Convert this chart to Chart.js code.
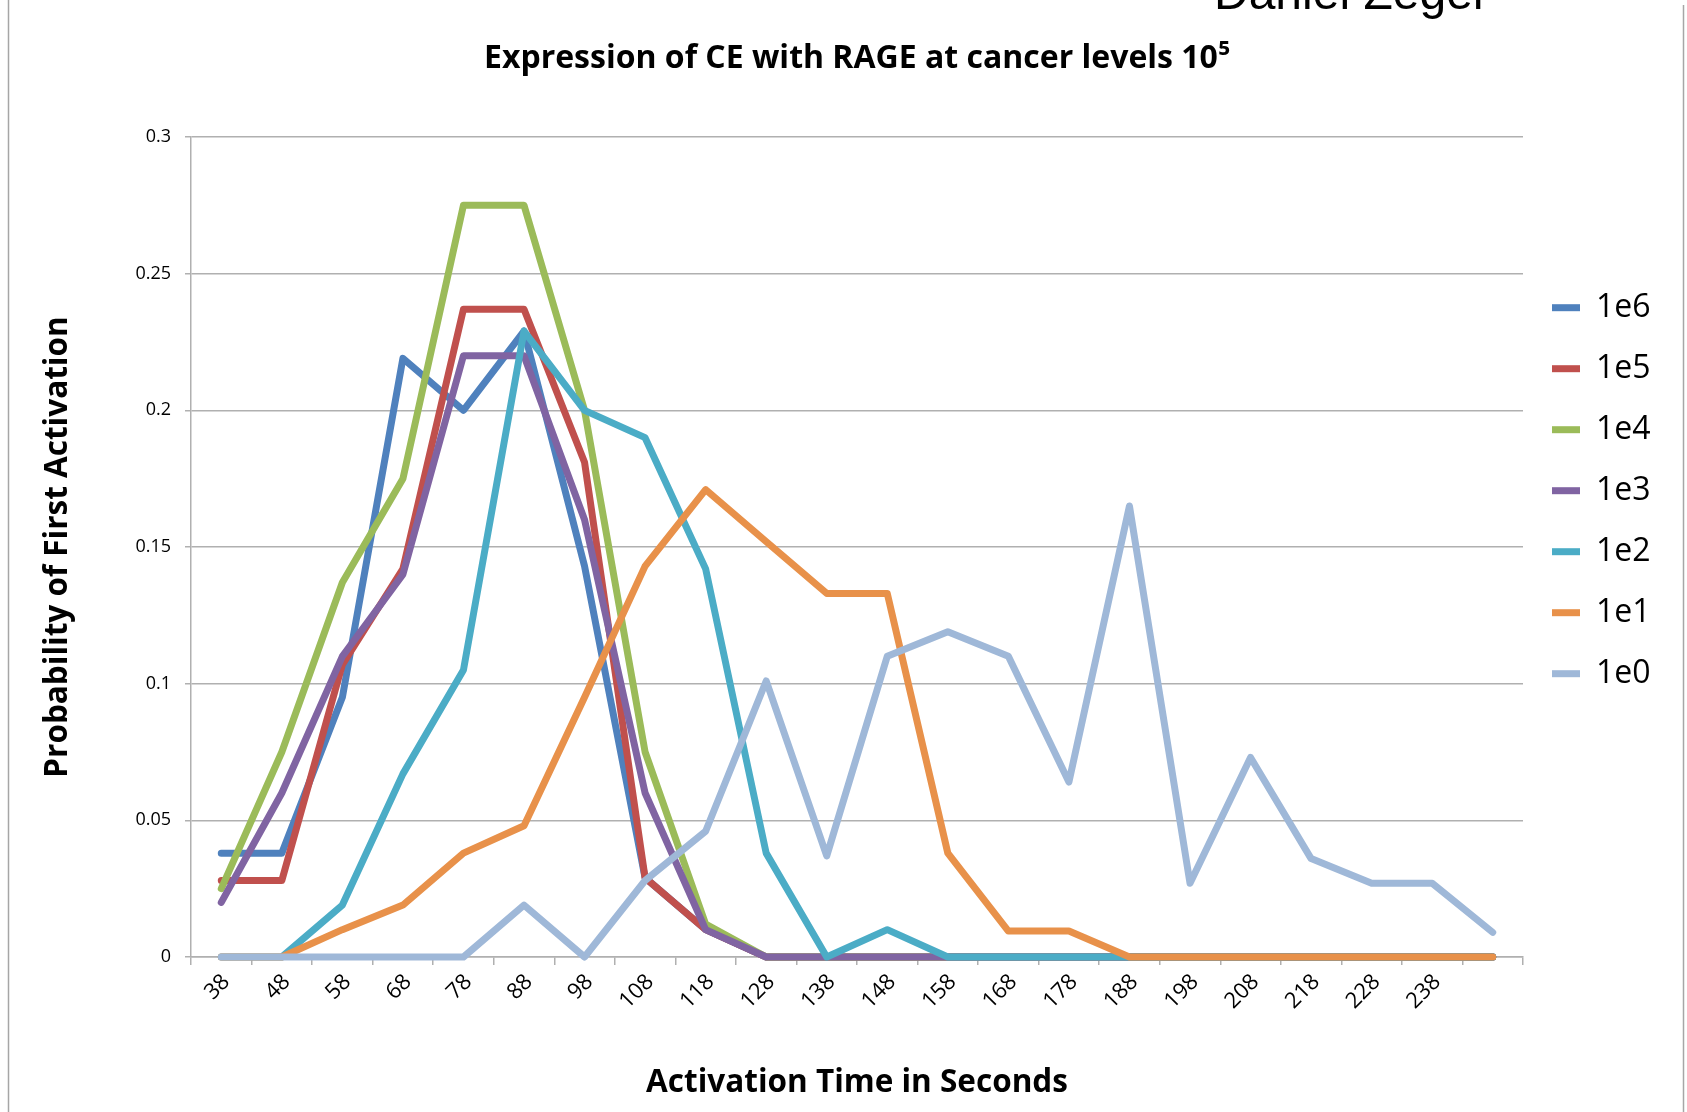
<!DOCTYPE html>
<html>
<head>
<meta charset="utf-8">
<title>Expression of CE with RAGE</title>
<script src="https://cdn.jsdelivr.net/npm/chart.js@4.4.1/dist/chart.umd.min.js"></script>
<style>
  html, body { margin: 0; padding: 0; background: #fff; }
  canvas { display: block; }
</style>
</head>
<body>
<canvas id="activation" width="1687" height="1112"></canvas>
<script>
// activation time categories (last one has no label in the original)
const activationTimes = ['38', '48', '58', '68', '78', '88', '98', '108', '118', '128', '138',
  '148', '158', '168', '178', '188', '198', '208', '218', '228', '238', '']

const seriesNames = ['1e6', '1e5', '1e4', '1e3', '1e2', '1e1', '1e0']

const series1e6 = [0.038, 0.038, 0.095, 0.219, 0.200, 0.229, 0.143, 0.029, 0.010, 0, 0, 0, 0, 0, 0, 0, 0, 0, 0, 0, 0, 0]
const series1e5 = [0.028, 0.028, 0.107, 0.142, 0.237, 0.237, 0.181, 0.029, 0.010, 0, 0, 0, 0, 0, 0, 0, 0, 0, 0, 0, 0, 0]
const series1e4 = [0.025, 0.075, 0.137, 0.175, 0.275, 0.275, 0.200, 0.075, 0.012, 0, 0, 0, 0, 0, 0, 0, 0, 0, 0, 0, 0, 0]
const series1e3 = [0.020, 0.060, 0.110, 0.140, 0.220, 0.220, 0.160, 0.060, 0.010, 0, 0, 0, 0, 0, 0, 0, 0, 0, 0, 0, 0, 0]
const series1e2 = [0, 0, 0.019, 0.067, 0.105, 0.229, 0.200, 0.190, 0.142, 0.038, 0, 0.010, 0, 0, 0, 0, 0, 0, 0, 0, 0, 0]
const series1e1 = [0, 0, 0.010, 0.019, 0.038, 0.048, 0.095, 0.143, 0.171, 0.152, 0.133, 0.133, 0.038, 0.0095, 0.0095, 0, 0, 0, 0, 0, 0, 0]
const series1e0 = [0, 0, 0, 0, 0, 0.019, 0, 0.028, 0.046, 0.101, 0.037, 0.110, 0.119, 0.110, 0.064, 0.165, 0.027, 0.073, 0.036, 0.027, 0.027, 0.009]

const seriesValues = [series1e6, series1e5, series1e4, series1e3, series1e2, series1e1, series1e0]
const seriesColors = ['#4f81bd', '#c0504d', '#9bbb59', '#8064a2', '#4bacc6', '#e8914a', '#9fb8d8']

const gridGrey = '#b0b0b0'
const textFont = '"Open Sans", "DejaVu Sans", sans-serif'
const legendWidth = 164

// thin page frame + the cut-off name at the top edge
const pageFrame = {
  id: 'pageFrame',
  beforeLayout(chart) {
    // keep the legend column a fixed width so the plot ends where Excel's does
    const legend = chart.legend
    if (legend && !legend._fixedWidth) {
      const fit = legend.fit
      legend.fit = function () {
        fit.call(this)
        this.width = legendWidth
      }
      legend._fixedWidth = true
    }
  },
  afterDraw(chart) {
    const ctx = chart.ctx
    ctx.save()
    ctx.strokeStyle = '#a6a6a6'
    ctx.lineWidth = 1.5
    ctx.beginPath()
    ctx.moveTo(8.5, 0)
    ctx.lineTo(8.5, chart.height)
    ctx.moveTo(1683.5, 5)
    ctx.lineTo(1683.5, chart.height)
    ctx.stroke()
    ctx.fillStyle = '#000'
    ctx.font = '48px "Liberation Sans", sans-serif'
    ctx.textBaseline = 'alphabetic'
    ctx.fillText('Daniel Zeger', 1214, 9)
    ctx.restore()
  }
}

const datasets = seriesNames.map((name, i) => ({
  label: name,
  data: seriesValues[i],
  borderColor: seriesColors[i],
  backgroundColor: seriesColors[i],
  borderWidth: 7,
  borderCapStyle: 'round',
  borderJoinStyle: 'round',
  pointRadius: 0,
  tension: 0,
  fill: false,
  clip: false,
  order: seriesNames.length - 1 - i   // later series painted on top, as in Excel
}))

Chart.defaults.font.family = textFont
Chart.defaults.color = '#000'

new Chart(document.querySelector('#activation'), {
  type: 'line',
  data: { labels: activationTimes, datasets: datasets },
  plugins: [pageFrame],
  options: {
    responsive: false,
    animation: false,
    events: [],
    layout: { padding: { left: 0, right: 0, top: 0, bottom: 0 } },
    plugins: {
      title: {
        display: true,
        fullSize: false,
        text: 'Expression of CE with RAGE at cancer levels 10\u2075',
        color: '#000',
        font: { size: 32, weight: 'bold' },
        padding: { top: 39.3, bottom: 59.3 }
      },
      legend: {
        position: 'right',
        align: 'start',
        title: { display: true, text: ' ', font: { size: 12 }, padding: { top: 248.3, bottom: 0 } },
        labels: {
          usePointStyle: true,
          pointStyle: 'line',
          pointStyleWidth: 28,
          padding: 29,
          color: '#000',
          font: { size: 32 },
          sort: (a, b) => a.datasetIndex - b.datasetIndex
        }
      },
      tooltip: { enabled: false }
    },
    scales: {
      x: {
        type: 'category',
        offset: true,
        afterFit: (scale) => { scale.height = 155 },
        grid: { offset: true, drawOnChartArea: false, color: gridGrey, lineWidth: 1.5, tickLength: 8 },
        border: { color: gridGrey, width: 1.5 },
        ticks: {
          autoSkip: false,
          maxRotation: 45,
          minRotation: 45,
          labelOffset: 5,
          padding: 4,
          color: '#000',
          font: { size: 22 }
        },
        title: {
          display: true,
          text: 'Activation Time in Seconds',
          color: '#000',
          font: { size: 31.5, weight: 'bold' },
          padding: { top: 0, bottom: 10 }
        }
      },
      y: {
        min: 0,
        max: 0.3,
        afterFit: (scale) => { scale.width = 191 },
        grid: { color: gridGrey, lineWidth: 1.5, tickLength: 6 },
        border: { color: gridGrey, width: 1.5 },
        ticks: {
          stepSize: 0.05,
          padding: 14,
          color: '#000',
          font: { size: 18 },
          callback: (value) => String(Number(value.toFixed(2)))
        },
        title: {
          display: true,
          text: 'Probability of First Activation',
          color: '#000',
          font: { size: 31.5, weight: 'bold' },
          padding: { top: 39, bottom: 0 }
        }
      }
    }
  }
})
</script>
</body>
</html>
